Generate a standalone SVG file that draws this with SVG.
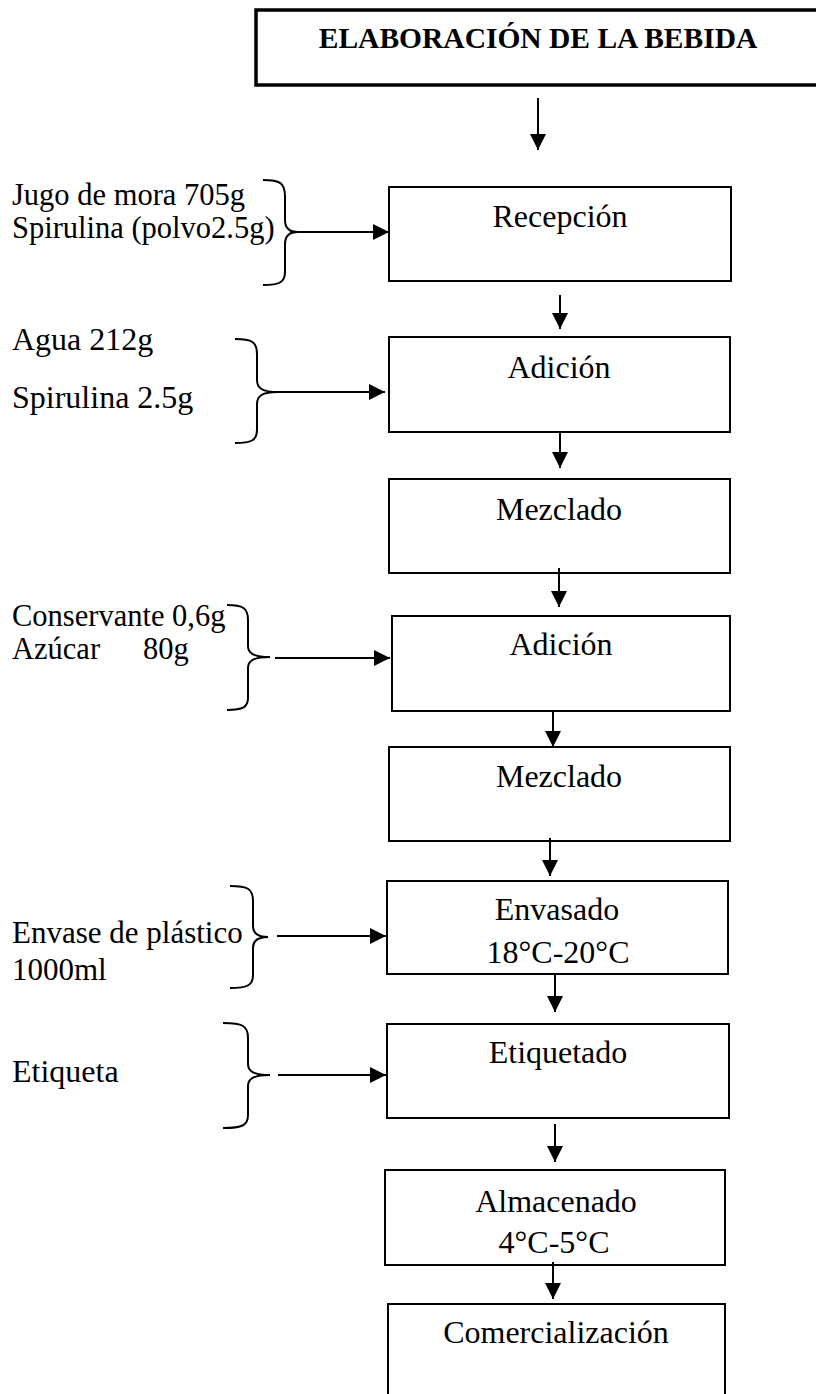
<svg xmlns="http://www.w3.org/2000/svg" width="816" height="1394" viewBox="0 0 816 1394">
  <style>
    .box { fill: #fff; stroke: #000; stroke-width: 2; }
    .title-box { fill: #fff; stroke: #000; stroke-width: 3.5; }
    .t { font-family: "Liberation Serif", "Times New Roman", serif; font-size: 32px; fill: #000; }
    .s { font-size: 30.5px; }
    .c { text-anchor: middle; }
    .title { font-family: "Liberation Serif", "Times New Roman", serif; font-size: 29.5px; font-weight: bold; text-anchor: middle; fill: #000; }
    .arrow { stroke: #000; stroke-width: 2; fill: none; marker-end: url(#head); }
    .brace { stroke: #000; stroke-width: 2; fill: none; }
  </style>
  <defs>
    <marker id="head" markerUnits="userSpaceOnUse" markerWidth="17" markerHeight="16" refX="16" refY="8" orient="auto">
      <path d="M0,0 L16,8 L0,16 z" fill="#000"/>
    </marker>
  </defs>

  <!-- title -->
  <g id="title">
    <rect class="title-box" x="256" y="10" width="600" height="75"/>
    <text class="title" x="538" y="48">ELABORACIÓN  DE LA BEBIDA</text>
  </g>

  <!-- process steps -->
  <g id="recepcion">
    <rect class="box" x="389" y="187" width="342" height="94"/>
    <text class="t c" x="560" y="227">Recepción</text>
  </g>
  <g id="adicion1">
    <rect class="box" x="389" y="337" width="341" height="95"/>
    <text class="t c" x="559" y="378">Adición</text>
  </g>
  <g id="mezclado1">
    <rect class="box" x="389" y="479" width="341" height="94"/>
    <text class="t c" x="559" y="520">Mezclado</text>
  </g>
  <g id="adicion2">
    <rect class="box" x="392" y="616" width="338" height="95"/>
    <text class="t c" x="561" y="655">Adición</text>
  </g>
  <g id="mezclado2">
    <rect class="box" x="389" y="747" width="341" height="94"/>
    <text class="t c" x="559" y="787">Mezclado</text>
  </g>
  <g id="envasado">
    <rect class="box" x="387" y="881" width="341" height="93"/>
    <text class="t c" x="557" y="920">Envasado</text>
    <text class="t c" x="558" y="963">18°C-20°C</text>
  </g>
  <g id="etiquetado">
    <rect class="box" x="387" y="1024" width="342" height="94"/>
    <text class="t c" x="558" y="1063">Etiquetado</text>
  </g>
  <g id="almacenado">
    <rect class="box" x="385" y="1170" width="340" height="95"/>
    <text class="t c" x="556" y="1212">Almacenado</text>
    <text class="t c" x="554" y="1253">4°C-5°C</text>
  </g>
  <g id="comercializacion">
    <rect class="box" x="388" y="1304" width="337" height="100"/>
    <text class="t c" x="556" y="1343">Comercialización</text>
  </g>

  <!-- inputs -->
  <g id="input1">
    <text class="t s" x="12" y="205">Jugo de mora 705g</text>
    <text class="t s" x="12" y="238">Spirulina (polvo2.5g)</text>
    <path class="brace" d="M263,180 C280,180 285,183 285,196 L285,220 C285,228 290,232 298,232 L308,232 M298,232 C290,232 285,236 285,244 L285,272 C285,282 280,285 263,285"/>
  </g>
  <g id="input2">
    <text class="t" x="12" y="350">Agua 212g</text>
    <text class="t" x="12" y="408">Spirulina 2.5g</text>
    <path class="brace" d="M235,339 C252,339 257,342 257,354 L257,380 C257,388 262,392 278,392 C262,392 257,396 257,404 L257,430 C257,440 252,443 235,443"/>
  </g>
  <g id="input3">
    <text class="t s" x="12" y="626">Conservante 0,6g</text>
    <text class="t s" x="12" y="659">Azúcar<tspan x="143">80g</tspan></text>
    <path class="brace" d="M227,605 C243,605 248,608 248,620 L248,646 C248,653 253,657 270,657 C253,657 248,661 248,668 L248,698 C248,707 243,710 227,710"/>
  </g>
  <g id="input4">
    <text class="t" x="12" y="943" style="font-size:31px">Envase de plástico</text>
    <text class="t" x="12" y="980" style="font-size:31px">1000ml</text>
    <path class="brace" d="M230,886 C248,886 253,889 253,901 L253,926 C253,933 257,937 268,937 C257,937 253,941 253,948 L253,975 C253,985 248,988 230,988"/>
  </g>
  <g id="input5">
    <text class="t" x="12" y="1082">Etiqueta</text>
    <path class="brace" d="M223,1023 C243,1023 248,1026 248,1038 L248,1064 C248,1071 253,1075 270,1075 C253,1075 248,1079 248,1086 L248,1115 C248,1125 243,1128 223,1128"/>
  </g>

  <!-- connectors -->
  <g id="connectors">
    <line class="arrow" x1="538" y1="98" x2="538" y2="150"/>
    <line class="arrow" x1="560" y1="295" x2="560" y2="329"/>
    <line class="arrow" x1="560" y1="432" x2="560" y2="468"/>
    <line class="arrow" x1="559" y1="568" x2="559" y2="607"/>
    <line class="arrow" x1="553" y1="711" x2="553" y2="747"/>
    <line class="arrow" x1="550" y1="838" x2="550" y2="876"/>
    <line class="arrow" x1="555" y1="974" x2="555" y2="1012"/>
    <line class="arrow" x1="555" y1="1124" x2="555" y2="1162"/>
    <line class="arrow" x1="553" y1="1262" x2="553" y2="1299"/>

    <line class="arrow" x1="290" y1="232" x2="389" y2="232"/>
    <line class="arrow" x1="277" y1="392" x2="385" y2="392"/>
    <line class="arrow" x1="275" y1="658" x2="390" y2="658"/>
    <line class="arrow" x1="277" y1="936" x2="386" y2="936"/>
    <line class="arrow" x1="278" y1="1075" x2="386" y2="1075"/>
  </g>
</svg>
